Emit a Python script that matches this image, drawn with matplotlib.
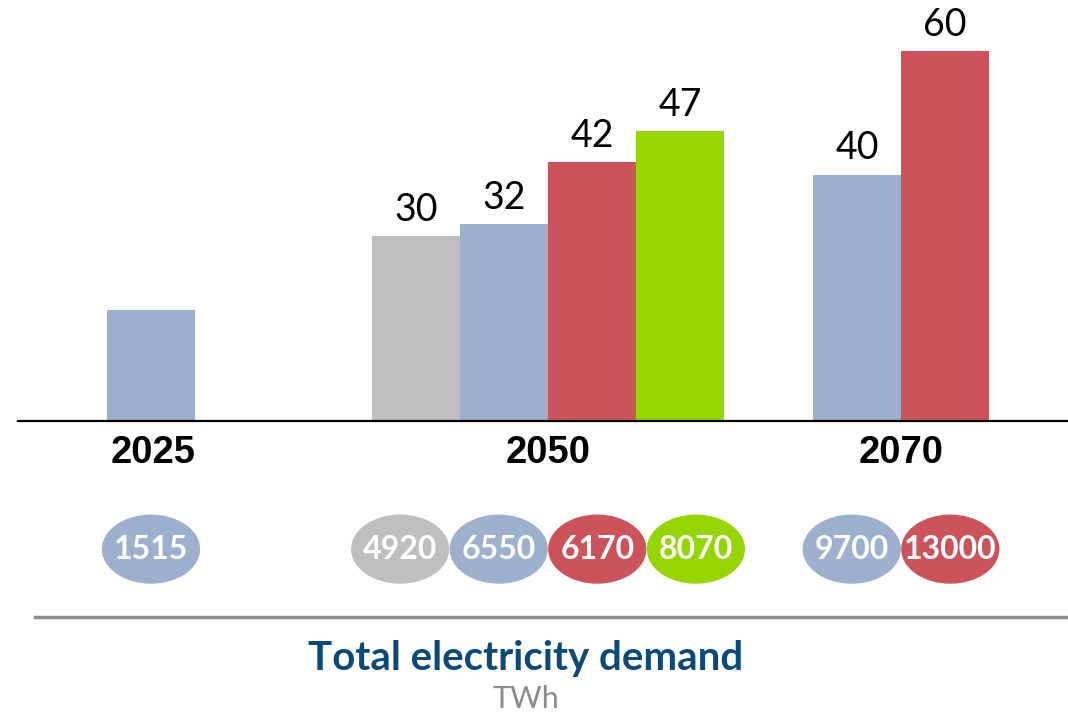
import matplotlib.pyplot as plt
from matplotlib.patches import Ellipse

# data
years = ["2025", "2050", "2070"]
bar_values = [[18], [30, 32, 42, 47], [40, 60]]
bar_labels = [[""], ["30", "32", "42", "47"], ["40", "60"]]
demand_twh = [[1515], [4920, 6550, 6170, 8070], [9700, 13000]]
bar_colors = [["#9DB0CE"], ["#BFBFBF", "#9DB0CE", "#CD535B", "#95D600"], ["#9DB0CE", "#CD535B"]]

title = "Total electricity demand"
unit = "TWh"

# layout (bar width = 1 unit, 88 px; 6.16 px per value unit)
W, H = 1068, 714
px_x = 88.0
px_y = 6.16
base_px = 293  # baseline height from bottom, px
group_centers = [151 / px_x, 548 / px_x, 901 / px_x]
ell_step = 1.12

fig = plt.figure(figsize=(W / 100, H / 100), dpi=100)
ax = fig.add_axes([0, 0, 1, 1])
ax.set_xlim(0, W / px_x)
ax.set_ylim(-base_px / px_y, (H - base_px) / px_y)
ax.axis("off")

num_font = "Lato"

for g, center in enumerate(group_centers):
    vals = bar_values[g]
    n = len(vals)
    xs = [center + (i - (n - 1) / 2) for i in range(n)]
    ax.bar(xs, vals, width=1.0, color=bar_colors[g], zorder=2)
    for x, v, lab in zip(xs, vals, bar_labels[g]):
        if lab:
            ax.annotate(lab, (x, v), xytext=(0, 6), textcoords="offset points",
                        ha="center", va="bottom", fontsize=27, family=num_font,
                        color="black")
    # year label
    ax.text(center + (0.02 if g == 0 else 0), -5.2, years[g], ha="center", va="center",
            fontsize=27.5, fontweight="bold", family="Liberation Sans")
    # demand ellipses
    ex = [center + (i - (n - 1) / 2) * ell_step for i in range(n)]
    for x, d, c in zip(ex, demand_twh[g], bar_colors[g]):
        ax.add_patch(Ellipse((x, -20.8), width=1.10, height=11.0, color=c,
                             zorder=2, clip_on=False))
        ax.text(x, -20.8, str(d), ha="center", va="center", fontsize=23,
                fontweight="bold", family=num_font, color="white", zorder=3)

# baseline
ax.plot([18 / px_x, W / px_x], [0, 0], color="black", lw=1.6, zorder=3)
# separator line
ax.plot([35 / px_x, W / px_x], [-31.8, -31.8], color="#8C8C8C", lw=2.5)

ax.text(526 / px_x, -38.6, title, ha="center", va="center", fontsize=29,
        fontweight="bold", family=num_font, color="#0B4A78")
ax.text(526 / px_x, -45.2, unit, ha="center", va="center", fontsize=22,
        family=num_font, color="#8C8C8C")

fig.savefig("out.png", dpi=100)
